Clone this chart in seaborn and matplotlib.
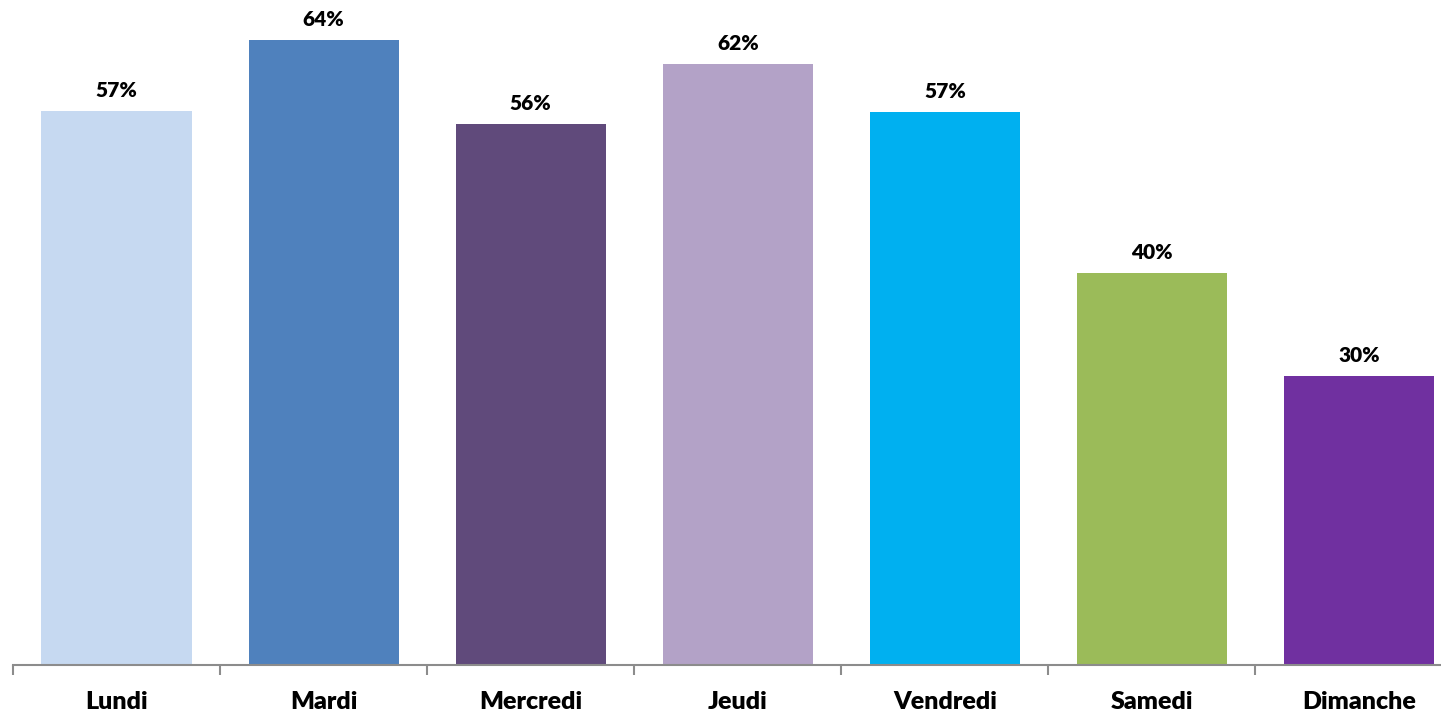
import pandas as pd
import seaborn as sns
import matplotlib.pyplot as plt
from matplotlib.ticker import FixedLocator

# Part of each day (in %)
days = ['Lundi', 'Mardi', 'Mercredi', 'Jeudi', 'Vendredi', 'Samedi', 'Dimanche']
shares = [57.0, 64.3, 55.6, 61.8, 56.9, 40.3, 29.7]
labels = ['57%', '64%', '56%', '62%', '57%', '40%', '30%']
colors = ['#C6D9F1', '#4F81BD', '#604A7B', '#B3A2C7', '#00B0F0', '#9BBB59', '#7030A0']

df = pd.DataFrame({'jour': days, 'part': shares})

sns.set_style('white')
plt.rcParams['font.family'] = ['Lato', 'DejaVu Sans']

fig = plt.figure(figsize=(14.41, 7.14), dpi=100)
ax = fig.add_axes([13 / 1441, 49 / 714, 1 - 13 / 1441, 665 / 714])

sns.barplot(data=df, x='jour', y='part', hue='jour', palette=colors,
            legend=False, width=0.725, saturation=1, linewidth=0, ax=ax)

for cont, lab in zip(ax.containers, labels):
    ax.bar_label(cont, labels=[lab], padding=8, fontsize=15,
                 fontweight='heavy', color='black')

ax.set_xlim(-0.5, 6.396)
ax.set_ylim(0, 68.4)
ax.set_xlabel('')
ax.set_ylabel('')
ax.set_yticks([])

for side in ['top', 'right', 'left']:
    ax.spines[side].set_visible(False)
ax.spines['bottom'].set_color('#8c8c8c')
ax.spines['bottom'].set_linewidth(1.5)

ax.xaxis.set_minor_locator(FixedLocator([i - 0.5 for i in range(len(days) + 1)]))
ax.tick_params(axis='x', which='major', length=0, pad=19, labelsize=18,
               labelcolor='black')
ax.tick_params(axis='x', which='minor', length=7, width=1.5, color='#8c8c8c', bottom=True)
for t in ax.get_xticklabels():
    t.set_fontweight('heavy')

fig.savefig('out.png', dpi=100)
